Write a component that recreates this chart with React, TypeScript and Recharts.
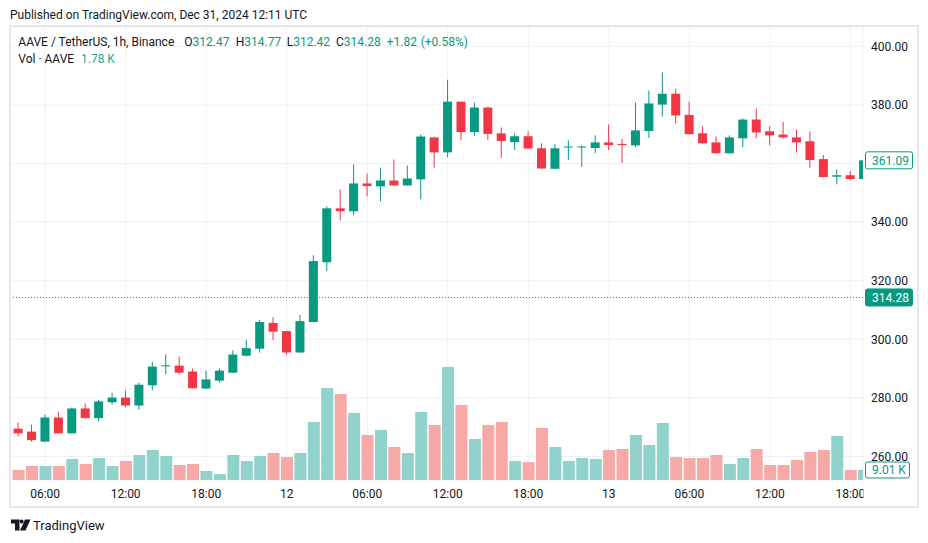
import React from "react";
import { ComposedChart, Bar, XAxis, YAxis, CartesianGrid, ReferenceLine } from "recharts";

const GREEN = "#089981";
const RED = "#F23645";
const VOL_GREEN = "#92D2CC";
const VOL_RED = "#F7A9A7";
const TEXT = "#131722";
const FONT = "Roboto, 'Noto Sans', sans-serif";

// hourly categories (Dec 11 04:00 .. Dec 13 19:00)
const times = [
  "11 04:00", "11 05:00", "11 06:00", "11 07:00", "11 08:00", "11 09:00", "11 10:00", "11 11:00",
  "11 12:00", "11 13:00", "11 14:00", "11 15:00", "11 16:00", "11 17:00", "11 18:00", "11 19:00",
  "11 20:00", "11 21:00", "11 22:00", "11 23:00",
  "12 00:00", "12 01:00", "12 02:00", "12 03:00", "12 04:00", "12 05:00", "12 06:00", "12 07:00",
  "12 08:00", "12 09:00", "12 10:00", "12 11:00", "12 12:00", "12 13:00", "12 14:00", "12 15:00",
  "12 16:00", "12 17:00", "12 18:00", "12 19:00", "12 20:00", "12 21:00", "12 22:00", "12 23:00",
  "13 00:00", "13 01:00", "13 02:00", "13 03:00", "13 04:00", "13 05:00", "13 06:00", "13 07:00",
  "13 08:00", "13 09:00", "13 10:00", "13 11:00", "13 12:00", "13 13:00", "13 14:00", "13 15:00",
  "13 16:00", "13 17:00", "13 18:00", "13 19:00",
];

const opens = [
  269.5, 268.5, 265.1, 273.3, 267.9, 276.4, 273.1, 278.5, 280.1, 277.4,
  284.3, 290.9, 291.0, 289.0, 283.2, 285.9, 288.6, 294.4, 296.8, 305.6,
  302.8, 295.5, 305.9, 326.3, 344.7, 343.7, 353.2, 352.2, 354.2, 352.5,
  354.6, 368.9, 363.8, 381.1, 370.7, 379.1, 370.3, 367.3, 369.3, 365.2,
  358.2, 365.5, 365.5, 365.3, 367.2, 366.7, 366.2, 371.1, 380.1, 383.8,
  376.6, 370.3, 367.2, 363.5, 368.6, 375.0, 371.0, 369.9, 368.9, 367.6,
  361.5, 355.5, 356.0, 354.7,
];
const highs = [
  271.6, 270.9, 274.3, 275.3, 276.7, 278.1, 279.4, 281.8, 282.5, 285.2,
  292.4, 294.8, 294.1, 290.0, 289.3, 290.0, 296.2, 299.8, 306.6, 307.6,
  302.9, 308.3, 328.7, 345.4, 351.2, 359.7, 356.6, 358.6, 361.4, 359.3,
  369.9, 369.2, 388.6, 381.2, 380.8, 379.4, 372.3, 370.3, 371.0, 366.9,
  366.6, 367.9, 366.2, 369.6, 373.3, 368.4, 380.8, 384.9, 391.1, 385.5,
  381.1, 372.7, 369.2, 369.6, 375.4, 378.8, 372.7, 374.2, 371.6, 371.0,
  362.9, 358.0, 357.4, 361.5,
];
const lows = [
  266.9, 265.1, 264.9, 267.8, 267.8, 273.0, 272.0, 277.7, 276.8, 276.0,
  282.6, 288.0, 288.0, 283.2, 283.0, 285.2, 288.5, 294.1, 295.5, 299.8,
  294.8, 295.4, 305.8, 323.3, 340.6, 342.3, 348.8, 347.1, 352.4, 352.4,
  347.8, 358.6, 362.1, 367.9, 369.4, 368.0, 361.9, 364.6, 365.0, 358.2,
  358.1, 361.2, 358.9, 363.6, 364.6, 360.2, 365.6, 368.7, 376.0, 373.7,
  369.9, 366.6, 363.4, 363.4, 365.6, 368.6, 366.2, 368.6, 363.8, 358.5,
  355.3, 352.9, 354.2, 354.5,
];
const closes = [
  267.9, 265.6, 273.3, 267.9, 276.4, 273.1, 278.8, 280.1, 277.4, 284.5,
  290.7, 291.1, 288.6, 283.3, 286.3, 289.3, 294.8, 297.0, 305.9, 302.6,
  295.5, 306.2, 326.7, 344.7, 343.7, 353.2, 352.3, 354.2, 352.5, 354.9,
  369.2, 363.8, 381.1, 370.7, 379.1, 370.1, 367.7, 369.3, 365.1, 358.3,
  365.2, 365.8, 365.8, 367.2, 366.3, 366.3, 371.3, 380.5, 383.8, 376.4,
  370.0, 366.9, 363.5, 368.9, 375.0, 370.6, 369.6, 368.9, 367.2, 361.2,
  355.4, 356.0, 354.7, 361.09,
];
// volume in thousands of AAVE
const volumes = [
  9.0, 12.6, 12.6, 12.6, 18.9, 14.4, 19.8, 12.6, 17.1, 22.5,
  27.0, 21.6, 13.5, 14.4, 8.1, 5.4, 22.5, 17.1, 21.6, 24.3,
  20.7, 24.3, 52.2, 82.8, 77.4, 60.3, 40.5, 45.0, 29.7, 24.3,
  61.2, 49.5, 101.7, 67.5, 36.9, 49.5, 52.2, 17.1, 16.2, 46.8,
  29.7, 17.1, 19.8, 18.9, 27.0, 27.9, 40.5, 31.5, 51.3, 20.7,
  19.8, 19.8, 22.5, 14.4, 19.8, 27.9, 13.5, 13.5, 18.0, 25.2,
  27.0, 39.6, 9.0, 9.01,
];

const xTickValues = [2, 8, 14, 20, 26, 32, 38, 44, 50, 56, 62];
const xTickLabels = ["06:00", "12:00", "18:00", "12", "06:00", "12:00", "18:00", "13", "06:00", "12:00", "18:00"];
const priceTicks = [260, 280, 300, 320, 340, 360, 380, 400];
const hiddenPriceTicks = [360];

const X_DOMAIN: [number, number] = [-0.62, 62.94];
const PRICE_DOMAIN: [number, number] = [251.98, 406.59];
const VOL_DOMAIN: [number, number] = [0, 407.7];

const lastPrice = 314.28;
const lastVisibleClose = 361.09;
const lastVolume = 9.01;

const data = times.map((time, i) => ({
  t: i,
  time,
  open: opens[i],
  high: highs[i],
  low: lows[i],
  close: closes[i],
  volume: volumes[i],
}));

const Candle = (props: any) => {
  const { x, y, width, height, payload } = props;
  if (x == null || y == null) return <g />;
  const cx = x + width / 2;
  const top = Math.min(y, y + height);
  const h = Math.abs(height);
  const { open, close, high, low } = payload;
  const ppu = high - low > 0 ? h / (high - low) : 0;
  const yO = top + (high - open) * ppu;
  const yC = top + (high - close) * ppu;
  const up = close >= open;
  const color = up ? GREEN : RED;
  const bTop = Math.min(yO, yC);
  const bH = Math.max(1, Math.abs(yC - yO));
  return (
    <g>
      <rect x={cx - 0.5} y={top} width={1} height={Math.max(1, h)} fill={color} />
      <rect x={cx - 4.5} y={bTop} width={9} height={bH} fill={color} />
    </g>
  );
};

const VolBar = (props: any) => {
  const { x, y, width, height, payload } = props;
  if (x == null || y == null) return <g />;
  const cx = x + width / 2;
  const top = Math.min(y, y + height);
  const h = Math.abs(height);
  const up = payload.close >= payload.open;
  return <rect x={cx - 6} y={top} width={12} height={h} fill={up ? VOL_GREEN : VOL_RED} />;
};

const XTick = (props: any) => {
  const { x, y, payload } = props;
  const idx = xTickValues.indexOf(payload.value);
  return (
    <text x={x} y={y} dy={9.5} textAnchor="middle" fontSize={12} fontFamily={FONT} fill={TEXT}>
      {xTickLabels[idx]}
    </text>
  );
};

const YTick = (props: any) => {
  const { x, y, payload } = props;
  if (hiddenPriceTicks.includes(payload.value)) return <g />;
  return (
    <text x={x} y={y} dy={4.2} textAnchor="start" fontSize={12} fontFamily={FONT} fill={TEXT}>
      {Number(payload.value).toFixed(2)}
    </text>
  );
};

const PriceTag = (props: any) => {
  const { viewBox, text, filled, w, h } = props;
  if (!viewBox) return <g />;
  const x = viewBox.x + viewBox.width + 2;
  const y = viewBox.y;
  return (
    <g>
      <rect
        x={x + 0.5}
        y={y - h / 2}
        width={w}
        height={h}
        rx={2}
        fill={filled ? GREEN : "#ffffff"}
        stroke={GREEN}
        strokeWidth={1}
      />
      <text x={x + 7} y={y} dy={4.2} fontSize={12} fontFamily={FONT} fill={filled ? "#ffffff" : GREEN}>
        {text}
      </text>
    </g>
  );
};

export default function App() {
  return (
    <div
      style={{
        position: "absolute",
        left: 0,
        top: 0,
        width: 928,
        height: 543,
        background: "#ffffff",
        fontFamily: FONT,
        overflow: "hidden",
      }}
    >
      <ComposedChart width={928} height={543} data={data} margin={{ top: 27, right: 11, bottom: 36, left: 10 }}>
        <CartesianGrid xAxisId="p" yAxisId="price" stroke="#F0F1F4" />
        <XAxis
          xAxisId="p"
          dataKey="t"
          type="number"
          domain={X_DOMAIN}
          allowDataOverflow
          ticks={xTickValues}
          interval={0}
          tick={<XTick />}
          axisLine={false}
          tickLine={false}
          height={27}
        />
        <XAxis xAxisId="v" dataKey="t" type="number" domain={X_DOMAIN} allowDataOverflow ticks={xTickValues} hide />
        <YAxis
          yAxisId="price"
          orientation="right"
          domain={PRICE_DOMAIN}
          allowDataOverflow
          ticks={priceTicks}
          interval={0}
          tick={<YTick />}
          axisLine={false}
          tickLine={false}
          width={54}
        />
        <YAxis yAxisId="vol" hide domain={VOL_DOMAIN} allowDataOverflow />
        <Bar xAxisId="v" yAxisId="vol" dataKey="volume" barSize={12} shape={<VolBar />} isAnimationActive={false} />
        <Bar
          xAxisId="p"
          yAxisId="price"
          dataKey={(d: any) => [d.low, d.high]}
          barSize={9}
          shape={<Candle />}
          isAnimationActive={false}
        />
        <ReferenceLine
          xAxisId="p"
          yAxisId="price"
          y={lastPrice}
          stroke={GREEN}
          strokeDasharray="1 2"
          label={<PriceTag text={lastPrice.toFixed(2)} filled w={47} h={17} />}
        />
        <ReferenceLine
          xAxisId="p"
          yAxisId="price"
          y={lastVisibleClose}
          stroke="none"
          label={<PriceTag text={lastVisibleClose.toFixed(2)} filled={false} w={47} h={17} />}
        />
        <ReferenceLine
          xAxisId="v"
          yAxisId="vol"
          y={lastVolume}
          stroke="none"
          label={<PriceTag text={`${lastVolume.toFixed(2)} K`} filled={false} w={44} h={16} />}
        />
      </ComposedChart>
      <svg
        width={928}
        height={543}
        style={{ position: "absolute", left: 0, top: 0, pointerEvents: "none" }}
        fontFamily={FONT}
      >
        <rect x={863.5} y={481} width={53} height={25} fill="#ffffff" />
        <rect x={10} y={26} width={908} height={481} fill="none" stroke="#E6E8ED" strokeWidth={2} />
        <text x={10} y={19} fontSize={12} fill={TEXT}>
          Published on TradingView.com, Dec 31, 2024 12:11 UTC
        </text>
        <g fontSize={12}>
          <text x={18.3} y={45.7} fill={TEXT}>AAVE / TetherUS, 1h, Binance</text>
          <text x={184.3} y={45.7} fill={TEXT}>
            O<tspan fill={GREEN}>312.47</tspan>
          </text>
          <text x={235.7} y={45.7} fill={TEXT}>
            H<tspan fill={GREEN}>314.77</tspan>
          </text>
          <text x={286.7} y={45.7} fill={TEXT}>
            L<tspan fill={GREEN}>312.42</tspan>
          </text>
          <text x={336} y={45.7} fill={TEXT}>
            C<tspan fill={GREEN}>314.28</tspan>
          </text>
          <text x={386.7} y={45.7} fill={GREEN}>+1.82</text>
          <text x={420.7} y={45.7} fill={GREEN}>(+0.58%)</text>
          <text x={18.3} y={63.3} fill={TEXT}>Vol · AAVE</text>
          <text x={81} y={63.3} fill="#26A69A">1.78 K</text>
        </g>
        <g fill={TEXT}>
          <path d="M11 519.5 H19.5 V530.5 H15 V523.5 H11 Z" />
          <circle cx={21.6} cy={521.6} r={2} />
          <path d="M25 519.5 H30.5 L25.5 530.5 H20 Z" />
        </g>
        <text x={33} y={529.5} fontSize={13} fill={TEXT}>TradingView</text>
      </svg>
    </div>
  );
}
